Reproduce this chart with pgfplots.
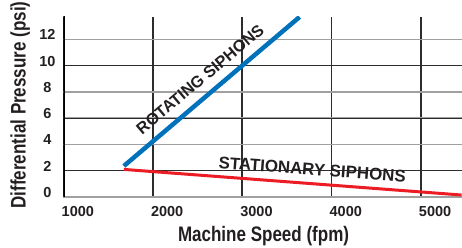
\documentclass[border=0pt]{standalone}
\usepackage{pgfplots}
\pgfplotsset{compat=1.18}
\usepackage{fontspec}
\setmainfont{Liberation Sans}
\newfontfamily\condfont{Liberation Sans}[FakeStretch=0.81]
\definecolor{rotblue}{RGB}{0,114,188}
\definecolor{statred}{RGB}{236,28,36}
\definecolor{txt}{RGB}{35,31,32}
\definecolor{griddark}{RGB}{45,45,45}
\definecolor{gridgrey}{RGB}{160,160,160}
\begin{document}
\begin{tikzpicture}
\begin{axis}[
  scale only axis, width=398.5pt, height=180pt,
  xmin=1000, xmax=5462, ymin=0, ymax=13.7,
  axis line style={draw=none},
  tick style={draw=none},
  xtick={1000,2000,3000,4000,5000},
  ytick={0,2,...,12},
  xmajorgrids, ymajorgrids,
  x grid style={griddark, line width=1.8pt},
  y grid style={gridgrey, line width=1.5pt},
  extra y ticks={2,6,10},
  extra y tick labels={},
  extra y tick style={y grid style={griddark, line width=1.3pt}},
  ticklabel style={font=\bfseries\fontsize{14.5}{14.5}\selectfont, text=txt},
  /pgf/number format/assume math mode=true,
  /pgf/number format/1000 sep={},
  xticklabel style={anchor=north west, inner sep=0pt, xshift=-2pt, yshift=-8.7pt},
  yticklabel style={anchor=center, inner sep=0pt, xshift=-16pt, yshift=4.5pt},
  xlabel={Machine Speed (fpm)},
  ylabel={Differential Pressure (psi)},
  label style={font=\condfont\bfseries\fontsize{21}{21}\selectfont, text=txt},
  xlabel style={at={(axis description cs:0.502,-0.25)}, anchor=base},
  ylabel style={at={(axis description cs:-0.0953,0.511)}, anchor=base},
]
\addplot[rotblue, line width=4.5pt] coordinates {(1676,2.36) (3643,13.7)};
\addplot[statred, line width=3pt] coordinates {(1676,2.1) (5457,0.15)};
\draw[black, line width=3pt] (rel axis cs:0,-0.011) -- (rel axis cs:0,1.028);
\node[rotate=40, inner sep=0pt, font=\bfseries\fontsize{16.3}{16.3}\selectfont, text=txt] at (axis cs:2530,8.95) {ROTATING SIPHONS};
\node[rotate=-4.2, inner sep=0pt, font=\bfseries\fontsize{16.9}{16.9}\selectfont, text=txt] at (axis cs:3785,2.1) {STATIONARY SIPHONS};
\end{axis}
\pgfresetboundingbox
\path ([shift={(-63.5pt,-51pt)}]current axis.south west) rectangle ([shift={(0pt,17pt)}]current axis.north east);
\end{tikzpicture}
\end{document}
